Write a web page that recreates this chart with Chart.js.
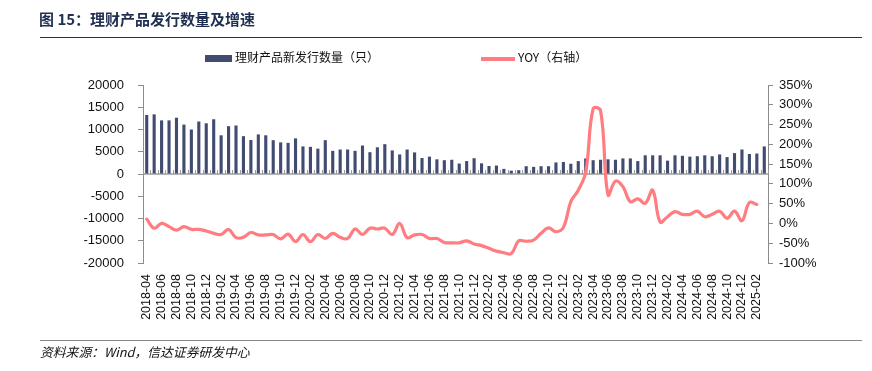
<!DOCTYPE html>
<html>
<head>
<meta charset="utf-8">
<script src="https://cdn.jsdelivr.net/npm/chart.js@4.4.1/dist/chart.umd.min.js"></script>
<style>
  html, body { margin: 0; padding: 0; background: #fff; }
  body { width: 872px; height: 371px; position: relative; overflow: hidden;
         font-family: "Liberation Sans", "Noto Sans CJK SC", sans-serif; }
  #chart { position: absolute; left: 0; top: 0; }
  .title { position: absolute; left: 39px; top: 8px; font-size: 15px; font-weight: bold;
           color: #1f2f52; font-family: "Noto Sans CJK SC", sans-serif; white-space: nowrap; }
  .rule { position: absolute; left: 40px; width: 822px; }
  .legend { position: absolute; top: 48px; font-size: 12px; color: #111; white-space: nowrap;
            font-family: "Noto Sans CJK SC", sans-serif; }
  .legend span.sw { display: inline-block; vertical-align: middle; margin-right: 3px; }
  .source { position: absolute; left: 40px; top: 342px; font-size: 12.8px; font-style: italic;
            color: #111; font-family: "Noto Sans CJK SC", sans-serif; white-space: nowrap; }
</style>
</head>
<body>
<canvas id="chart" width="872" height="371"></canvas>
<div class="title">图 15：理财产品发行数量及增速</div>
<div class="rule" style="top:37px;height:0;border-top:1.5px solid #333;"></div>
<div class="legend" style="left:205px;"><span class="sw" style="width:27px;height:7px;background:#414c70;"></span>理财产品新发行数量（只）</div>
<div class="legend" style="left:481px;"><span class="sw" style="width:34px;height:4px;background:#ff7c80;"></span>YOY（右轴）</div>
<div class="rule" style="top:340px;height:0;border-top:1.5px solid #888;"></div>
<div class="source">资料来源：Wind，信达证券研发中心</div>
<script>
// months 2018-04 .. 2025-03
var months = [];
for (var y = 2018; y <= 2025; y++) {
    for (var m = 1; m <= 12; m++) {
        if (y === 2018 && m < 4) continue;
        if (y === 2025 && m > 3) continue;
        months.push(y + '-' + (m < 10 ? '0' + m : m));
    }
}

// new wealth-management products issued (count)
var issueCount = [
    13260, 13400, 12050, 12050, 12650, 11100, 10000, 11800, 11400, 12300,
    8700, 10750, 10900, 8500, 7650, 8900, 8700, 7600, 7100, 7000,
    8000, 6200, 6100, 5700, 7600, 5200, 5500, 5500, 5200, 6400,
    4900, 6000, 6700, 5300, 4400, 5500, 4850, 3600, 3900, 3300,
    3100, 3200, 2350, 2900, 3550, 2400, 1800, 1900, 1150, 750,
    850, 1750, 1600, 1750, 1750, 2600, 2700, 2300, 2900, 3500,
    3100, 3200, 3300, 3200, 3500, 3500, 2900, 4200, 4200, 4200,
    3000, 4200, 4100, 3900, 4000, 4200, 4000, 4400, 3800, 4700,
    5500, 4500, 4600, 6200
];

// YOY growth (%), right axis
var yoy = [
    11, -12, 0, -8, -17, -8, -15, -15, -19, -25,
    -28, -15, -36, -35, -23, -29, -29, -28, -39, -27,
    -46, -28, -46, -28, -38, -25, -35, -38, -14, -28,
    -12, -14, -12, -28, 0, -36, -29, -28, -38, -38,
    -48, -49, -49, -44, -52, -56, -63, -70, -74, -76,
    -44, -45, -42, -25, -11, -21, -10, 55, 84, 130,
    290, 285, 72, 107, 93, 55, 62, 51, 84, 4,
    17, 30, 23, 23, 31, 17, 23, 31, 13, 31,
    7, 53, 48, null
];

var zeroLine = {
    id: 'zeroLine',
    beforeDatasetsDraw: function (chart) {
        var ctx = chart.ctx, area = chart.chartArea;
        var y0 = chart.scales.y.getPixelForValue(0);
        var step = (area.right - area.left) / months.length;
        ctx.save();
        ctx.strokeStyle = '#9a9a9a';
        ctx.lineWidth = 1.5;
        ctx.beginPath();
        ctx.moveTo(area.left, y0);
        ctx.lineTo(area.right, y0);
        ctx.stroke();
        ctx.lineWidth = 1;
        ctx.beginPath();
        for (var i = 0; i <= months.length; i++) {
            var px = Math.round(area.left + i * step) + 0.5;
            ctx.moveTo(px, y0 - 4);
            ctx.lineTo(px, y0);
        }
        ctx.stroke();
        ctx.restore();
    }
};

var tickFont = { family: '"Liberation Sans", Arial, sans-serif', size: 13 };

new Chart(document.getElementById('chart'), {
    data: {
        labels: months,
        datasets: [{
            type: 'line',
            label: 'YOY（右轴）',
            data: yoy,
            yAxisID: 'y1',
            borderColor: '#ff7c80',
            borderWidth: 3.2,
            pointRadius: 0,
            tension: 0.4,
            borderCapStyle: 'round',
            order: 0
        }, {
            type: 'bar',
            label: '理财产品新发行数量（只）',
            data: issueCount,
            yAxisID: 'y',
            backgroundColor: '#414c70',
            categoryPercentage: 1,
            barPercentage: 0.42,
            order: 1
        }]
    },
    options: {
        responsive: false,
        animation: false,
        devicePixelRatio: 1,
        layout: { padding: { top: 85, bottom: 0, left: 0, right: 0 } },
        plugins: { legend: { display: false }, tooltip: { enabled: false } },
        scales: {
            x: {
                grid: { display: false },
                border: { display: false },
                afterFit: function (s) { s.height = 108; },
                ticks: {
                    autoSkip: false, maxRotation: 90, minRotation: 90, padding: 3,
                    color: '#111',
                    font: { family: '"Liberation Sans", Arial, sans-serif', size: 12.5 },
                    callback: function (v, i) { return i % 2 === 0 ? months[i] : ''; }
                }
            },
            y: {
                position: 'left',
                min: -20000, max: 20000,
                afterFit: function (s) { s.width = 143; },
                grid: { drawOnChartArea: false, tickLength: 5, color: '#8c8c8c' },
                border: { color: '#8c8c8c' },
                ticks: { stepSize: 5000, color: '#111', font: tickFont, padding: 14,
                         callback: function (v) { return String(v); } }
            },
            y1: {
                position: 'right',
                min: -100, max: 350,
                afterFit: function (s) { s.width = 104; },
                grid: { drawOnChartArea: false, tickLength: 5, color: '#8c8c8c' },
                border: { color: '#8c8c8c' },
                ticks: { stepSize: 50, color: '#111', font: tickFont, padding: 6,
                         callback: function (v) { return v + '%'; } }
            }
        }
    },
    plugins: [zeroLine]
});
</script>
</body>
</html>
